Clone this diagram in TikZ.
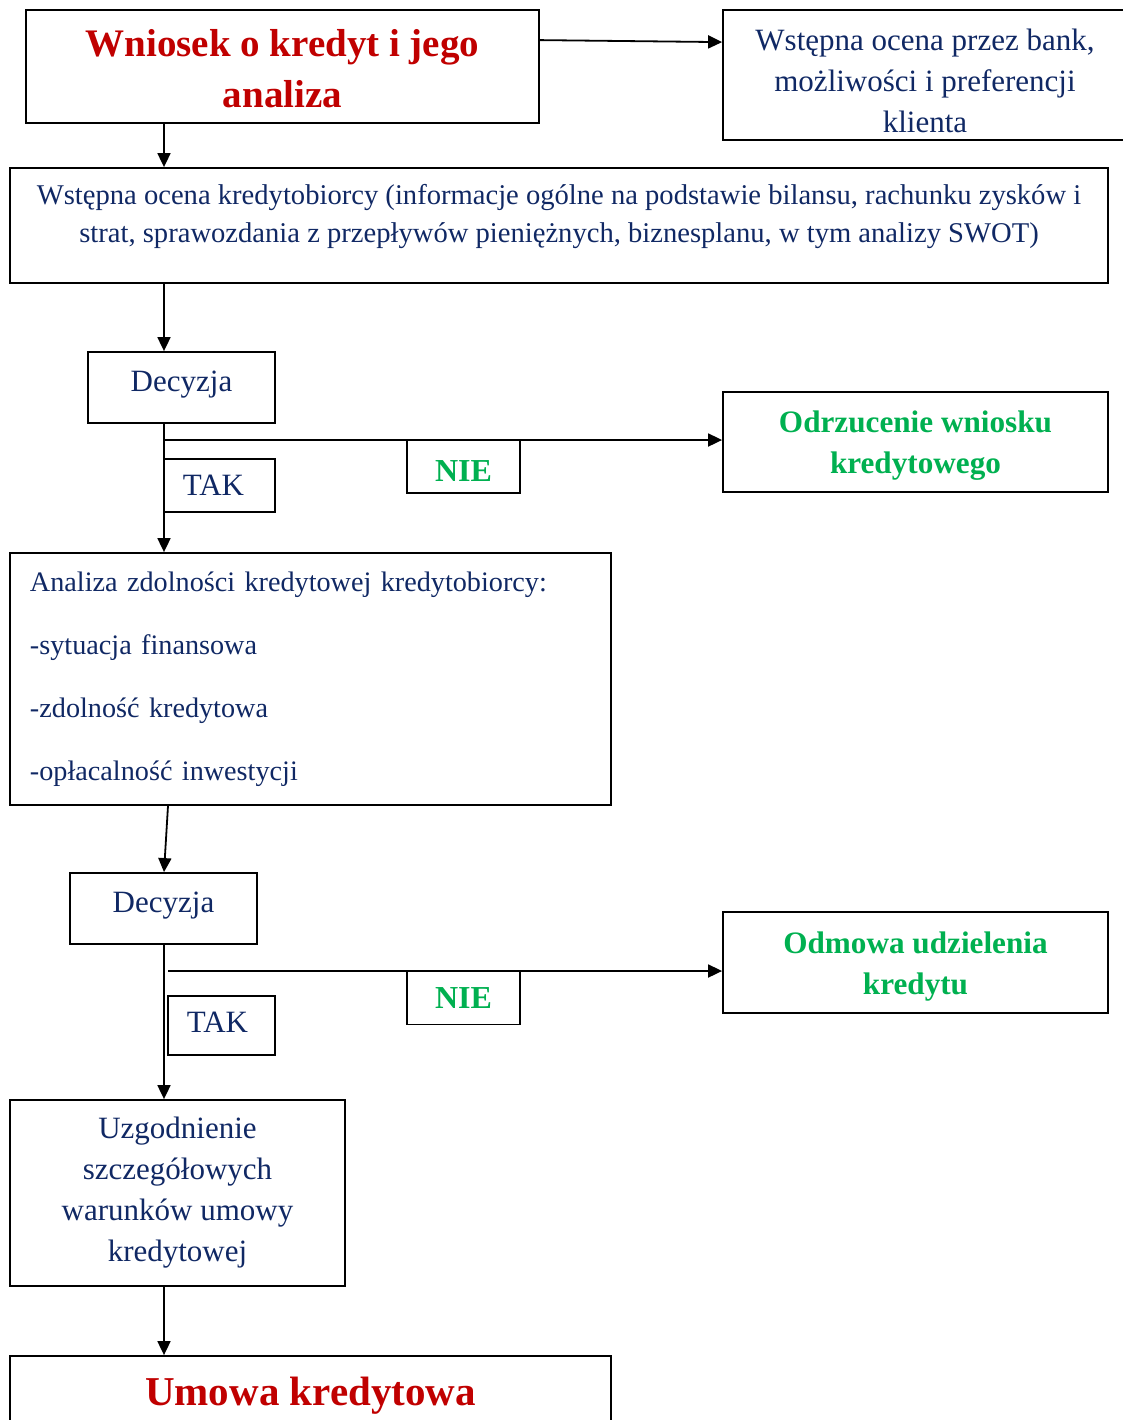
\documentclass[tikz,border=0pt]{standalone}
\usepackage{fontspec}
\setmainfont{Liberation Serif}
\usepackage{xcolor}
\usetikzlibrary{arrows.meta, positioning, calc}

\definecolor{granat}{RGB}{16,40,100}
\definecolor{czerwony}{RGB}{192,0,0}
\definecolor{zielony}{RGB}{0,176,80}

\begin{document}
\begin{tikzpicture}[x=0.5pt, y=-0.5pt,
  blok/.style={rectangle, draw, line width=0.9pt, inner sep=0pt, align=center, text=granat, font=\fontsize{15.5}{20.5}\selectfont},
  tytul/.style={blok, text=czerwony, font=\bfseries\fontsize{19.5}{25.5}\selectfont},
  wynik/.style={blok, text=zielony, font=\bfseries\fontsize{15.6}{20.5}\selectfont},
  etykieta/.style={blok, minimum width=56.5pt, minimum height=26.5pt},
  strzalka/.style={-{Triangle[length=7pt,width=6.5pt]}, line width=0.9pt}]
\useasboundingbox (0,0) rectangle (1123,1420);

\node[tytul, minimum width=256.5pt, minimum height=56.5pt] (wniosek) at (282.5,66.5) {\rule{0pt}{16pt}Wniosek o kredyt i jego\\ analiza};
\node[blok, minimum width=202pt, minimum height=65pt] (bank) at (925,75) {\rule{0pt}{16.5pt}Wstępna ocena przez bank,\\ możliwości i preferencji\\ klienta};
\node[blok, minimum width=549pt, minimum height=57.5pt, font=\fontsize{14.3}{19}\selectfont] (ocena) at (559,225.5) {Wstępna ocena kredytobiorcy (informacje ogólne na podstawie bilansu, rachunku zysków i\\ strat, sprawozdania z przepływów pieniężnych, biznesplanu, w tym analizy SWOT)\rule[-12pt]{0pt}{12pt}};

\node[blok, minimum width=93.5pt, minimum height=35.5pt] (dec1) at (181.5,387.5) {Decyzja\rule[-6pt]{0pt}{6pt}};
\node[wynik, minimum width=192.5pt, minimum height=50pt] (odrz) at (915.5,442) {\rule{0pt}{14.7pt}Odrzucenie wniosku\\ kredytowego};
\node[etykieta, minimum width=55.5pt] (tak1) at (219.5,485.5) {TAK\hspace{6pt}};
\node[etykieta, font=\bfseries\fontsize{16}{20.5}\selectfont, text=zielony] (nie1) at (463.5,466.5) {\rule{0pt}{15pt}NIE};

\node[blok, align=left, text width=280.5pt, inner xsep=10pt, minimum height=126pt, font=\fontsize{14.1}{20.5}\selectfont] (analiza) at (310.5,679) {Analiza zdolności kredytowej kredytobiorcy:\\[11pt] -sytuacja finansowa\\[11pt] -zdolność kredytowa\\[11pt] -opłacalność inwestycji};

\node[blok, minimum width=93.5pt, minimum height=35.5pt] (dec2) at (163.5,908.5) {Decyzja\rule[-6pt]{0pt}{6pt}};
\node[wynik, minimum width=192.5pt, minimum height=50.5pt] (odmowa) at (915.5,962.5) {\rule{0pt}{14.7pt}Odmowa udzielenia\\ kredytu};
\node[etykieta, minimum width=53.5pt, minimum height=29.5pt] (tak2) at (221.5,1025.5) {TAK\hspace{4pt}\rule[-3pt]{0pt}{3pt}};
\node[etykieta, font=\bfseries\fontsize{16}{20.5}\selectfont, text=zielony] (nie2) at (463.5,998) {NIE};

\node[blok, minimum width=167.5pt, minimum height=93pt] (uzg) at (177.5,1193) {Uzgodnienie\\ szczegółowych\\ warunków umowy\\ kredytowej};
\node[tytul, minimum width=300.5pt, minimum height=36pt, font=\bfseries\fontsize{20.5}{25.5}\selectfont] (umowa) at (310.5,1392) {\rule{0pt}{18pt}Umowa kredytowa};

% polaczenia
\coordinate (kol) at (164,0);
\coordinate (rozg1) at (164,440);
\coordinate (rozg2) at (168,971);
\draw[strzalka] ($(wniosek.north east)+(0,31)$) -- ($(bank.north west)+(0,33)$);
\draw[strzalka] (wniosek.south -| kol) -- (ocena.north -| kol);
\draw[strzalka] (ocena.south -| kol) -- (dec1.north -| kol);
\draw[strzalka] (dec1.south -| kol) -- (analiza.north -| kol);
\draw[strzalka] (rozg1) -- (rozg1 -| odrz.west);
\draw[strzalka] ($(analiza.south -| kol)+(4,0)$) -- (dec2.north -| kol);
\draw[strzalka] (dec2.south -| kol) -- (uzg.north -| kol);
\draw[strzalka] (rozg2) -- (rozg2 -| odmowa.west);
\draw[strzalka] (uzg.south -| kol) -- (umowa.north -| kol);
\end{tikzpicture}
\end{document}
